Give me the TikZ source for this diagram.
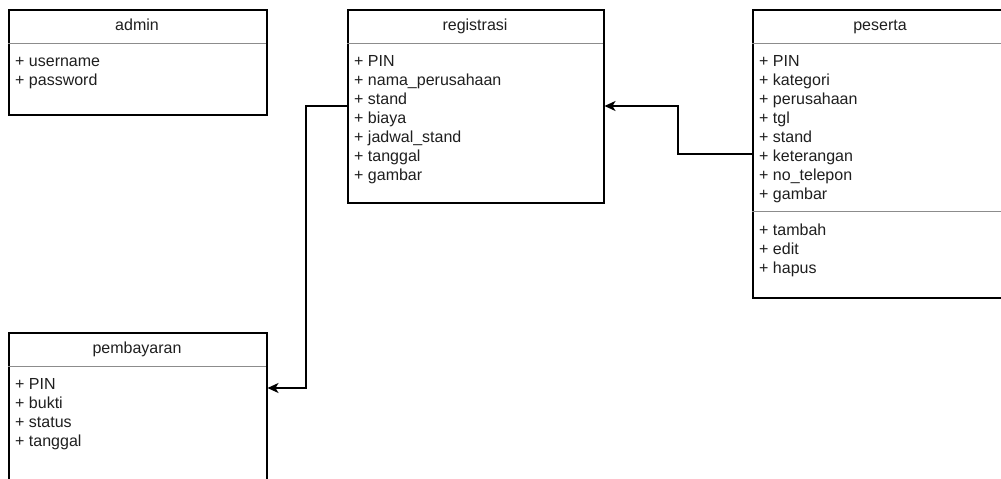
\documentclass[tikz,border=0pt]{standalone}
\usepackage{fontspec}
\setmainfont{Liberation Sans}
\usetikzlibrary{arrows.meta}
\begin{document}
\begin{tikzpicture}[x=1pt,y=-1pt,
  classbox/.style={draw=black,line width=1.5pt,fill=white},
  sepline/.style={draw=black!45,line width=1pt},
  title/.style={font=\fontsize{16}{19}\selectfont,text=black!88,anchor=base,inner sep=0pt},
  member/.style={font=\fontsize{16}{19}\selectfont,text=black!88,anchor=base west,inner sep=0pt},
  link/.style={draw=black,line width=1.4pt,-{Stealth[length=11pt,width=10pt,inset=3pt]}}]
\useasboundingbox (0,0) rectangle (1001,479);
\clip (0,0) rectangle (1001,479);

% class admin
\node[classbox,minimum width=258pt,minimum height=105pt,anchor=north west,inner sep=0pt] (admin) at (8,9) {};
\draw[sepline] (8,43) -- (266,43);
\node[title] (admintitle) at (137,30) {admin};
\node[member] (a1) at (15,66) {+ username};
\node[member] (a2) at (15,85) {+ password};

% class registrasi
\node[classbox,minimum width=256pt,minimum height=193pt,anchor=north west,inner sep=0pt] (reg) at (347,9) {};
\draw[sepline] (347,43) -- (603,43);
\node[title] (regtitle) at (475,30) {registrasi};
\node[member] (r1) at (354,66) {+ PIN};
\node[member] (r2) at (354,85) {+ nama\_perusahaan};
\node[member] (r3) at (354,104) {+ stand};
\node[member] (r4) at (354,123) {+ biaya};
\node[member] (r5) at (354,142) {+ jadwal\_stand};
\node[member] (r6) at (354,161) {+ tanggal};
\node[member] (r7) at (354,180) {+ gambar};

% class peserta
\node[classbox,minimum width=256pt,minimum height=288pt,anchor=north west,inner sep=0pt] (pes) at (752,9) {};
\draw[sepline] (752,43) -- (1008,43);
\draw[sepline] (752,211) -- (1008,211);
\node[title] (pestitle) at (880,30) {peserta};
\node[member] (p1) at (759,66) {+ PIN};
\node[member] (p2) at (759,85) {+ kategori};
\node[member] (p3) at (759,104) {+ perusahaan};
\node[member] (p4) at (759,123) {+ tgl};
\node[member] (p5) at (759,142) {+ stand};
\node[member] (p6) at (759,161) {+ keterangan};
\node[member] (p7) at (759,180) {+ no\_telepon};
\node[member] (p8) at (759,199) {+ gambar};
\node[member] (m1) at (759,235) {+ tambah};
\node[member] (m2) at (759,254) {+ edit};
\node[member] (m3) at (759,273) {+ hapus};

% class pembayaran
\node[classbox,minimum width=258pt,minimum height=170pt,anchor=north west,inner sep=0pt] (bayar) at (8,332) {};
\draw[sepline] (8,366) -- (266,366);
\node[title] (bayartitle) at (137,353) {pembayaran};
\node[member] (b1) at (15,389) {+ PIN};
\node[member] (b2) at (15,408) {+ bukti};
\node[member] (b3) at (15,427) {+ status};
\node[member] (b4) at (15,446) {+ tanggal};

% associations
\draw[link] (pes.west |- 0,154) -- (678,154) -- (678,106) -- (reg.east |- 0,106);
\draw[link] (reg.west |- 0,106) -- (306,106) -- (306,388) -- (bayar.east |- 0,388);
\end{tikzpicture}
\end{document}
